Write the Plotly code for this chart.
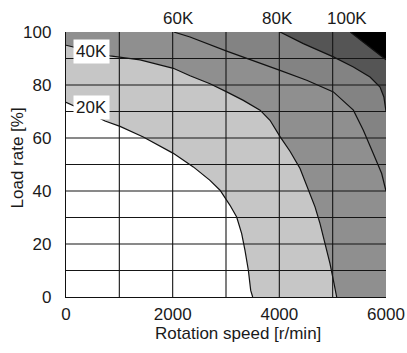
import plotly.graph_objects as go

# Iso-life boundaries (hours) on the speed / load plane
speed_20k = [0, 360, 731, 1013, 1449, 2012, 2387, 2700, 2888, 3075, 3200, 3294, 3356, 3419, 3463, 3500]
load_20k = [73.5, 70.2, 66.4, 64.4, 60.4, 54.2, 49.1, 44.0, 40.3, 34.6, 30.2, 23.9, 17.6, 10.1, 2.5, 0]

speed_40k = [0, 400, 825, 1388, 2012, 2325, 2700, 3013, 3325, 3638, 3825, 4013, 4200, 4388,
             4544, 4669, 4763, 4856, 4950, 5025, 5075]
load_40k = [95.0, 93.0, 91.0, 89.5, 86.3, 83.5, 80.5, 77.4, 74.2, 70.5, 66.7, 60.5, 55.0, 48.5,
            40.3, 34.0, 27.7, 20.2, 12.6, 5.1, 0]

speed_60k = [2020, 2325, 3013, 3325, 4013, 4513, 5013, 5388, 5575, 5763, 5919, 6000]
load_60k = [100, 98.1, 92.8, 90.6, 85.5, 81.8, 77.4, 70.5, 62.9, 54.1, 46.6, 40.0]

speed_80k = [4013, 4450, 5013, 5388, 5700, 5888, 5960, 6000]
load_80k = [100, 95.6, 90.6, 86.8, 83.0, 79.2, 75.5, 70.0]

speed_100k = [5330, 6000]
load_100k = [100, 89.5]

levels = ["20K", "40K", "60K", "80K", "100K"]
fill_colors = ["#c6c6c6", "#8f8f8f", "#838383", "#555555", "#000000"]

# Label positions (speed, load)
inner_labels = [("40K", 478, 92.5), ("20K", 475, 71.4)]
top_labels = [("60K", 2110), ("80K", 3960), ("100K", 5263)]

x_ticks = [0, 2000, 4000, 6000]
y_ticks = [0, 20, 40, 60, 80, 100]
x_grid = [1000, 2000, 3000, 4000, 5000]
y_grid = [10, 20, 30, 40, 50, 60, 70, 80, 90]

X_MAX, Y_MAX = 6000, 100

curves = [
    (speed_20k, load_20k),
    (speed_40k, load_40k),
    (speed_60k, load_60k),
    (speed_80k, load_80k),
    (speed_100k, load_100k),
]

fig = go.Figure()

# Shaded zones: each zone is everything above/right of its boundary
for (xs, ys), color in zip(curves, fill_colors):
    px = list(xs)
    py = list(ys)
    if py[-1] == 0:
        px += [X_MAX, X_MAX, 0]
        py += [0, Y_MAX, Y_MAX]
    else:
        px += [X_MAX]
        py += [Y_MAX]
    fig.add_trace(go.Scatter(
        x=px, y=py, mode="lines", fill="toself", fillcolor=color,
        line=dict(width=0, color=color), hoverinfo="skip", showlegend=False,
    ))

# Boundary curves
for xs, ys in curves:
    fig.add_trace(go.Scatter(
        x=xs, y=ys, mode="lines", line=dict(color="#111111", width=1.2),
        hoverinfo="skip", showlegend=False,
    ))

# Grid drawn above the shaded zones
for gx in x_grid:
    fig.add_shape(type="line", xref="x", yref="y", x0=gx, x1=gx, y0=0, y1=Y_MAX,
                  line=dict(color="#151515", width=1.1), layer="above")
for gy in y_grid:
    fig.add_shape(type="line", xref="x", yref="y", x0=0, x1=X_MAX, y0=gy, y1=gy,
                  line=dict(color="#151515", width=1.1), layer="above")

font_main = dict(family="Liberation Sans, Arial, sans-serif", size=17, color="#1a1a1a")

for text, sx, ly in inner_labels:
    fig.add_annotation(x=sx, y=ly, xref="x", yref="y", text=text, showarrow=False,
                       bgcolor="white", borderpad=2, font=font_main)

for text, sx in top_labels:
    fig.add_annotation(x=sx, y=1.05, xref="x", yref="paper", text=text, showarrow=False,
                       font=font_main, yanchor="middle")

fig.add_annotation(x=0.5375, y=-0.137, xref="paper", yref="paper", text="Rotation speed [r/min]",
                   showarrow=False, font=font_main, xanchor="center", yanchor="middle")
fig.add_annotation(x=-0.153, y=0.523, xref="paper", yref="paper", text="Load rate [%]",
                   showarrow=False, font=font_main, textangle=-90, xanchor="center", yanchor="middle")

fig.update_layout(
    width=407, height=353,
    margin=dict(l=66, r=21, t=32, b=56, pad=0, autoexpand=False),
    paper_bgcolor="white", plot_bgcolor="white",
    font=font_main,
    hovermode=False,
    xaxis=dict(range=[0, X_MAX], tickvals=x_ticks, showgrid=False, zeroline=False,
               showline=True, linecolor="#111111", linewidth=1.3,
               ticks="outside", ticklen=1, tickcolor="rgba(0,0,0,0)",
               tickfont=font_main, fixedrange=True, automargin=False),
    yaxis=dict(range=[0, Y_MAX], tickvals=y_ticks, showgrid=False, zeroline=False,
               showline=True, linecolor="#111111", linewidth=1.3,
               ticks="outside", ticklen=10, tickcolor="rgba(0,0,0,0)",
               tickfont=font_main, fixedrange=True, automargin=False),
)

fig.write_html("out.html")
